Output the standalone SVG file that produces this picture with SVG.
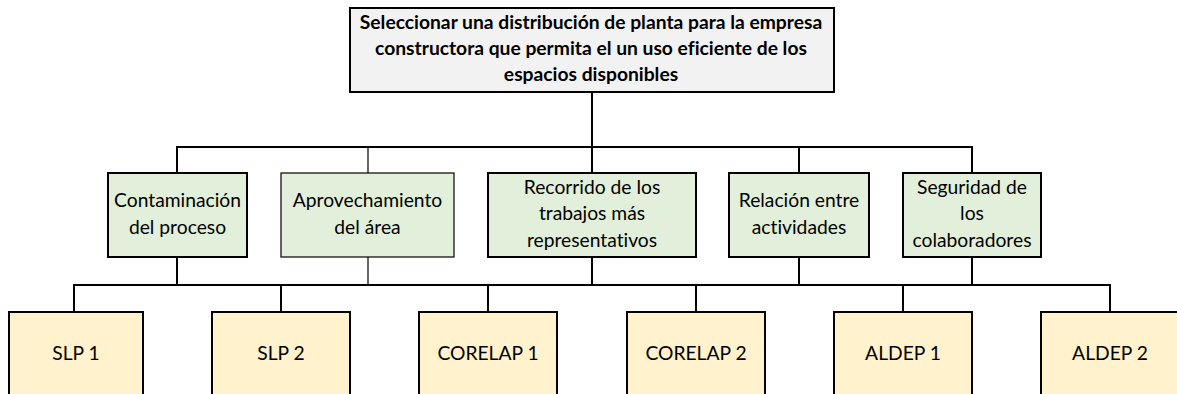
<svg xmlns="http://www.w3.org/2000/svg" width="1177" height="394" viewBox="0 0 1177 394">
<style>
  .bg{fill:#ffffff}
  .top{fill:#f2f2f2;stroke:#000;stroke-width:2}
  .crit{fill:#e2efda;stroke:#000;stroke-width:2}
  .alt{fill:#fff2cc;stroke:#000;stroke-width:2}
  .thin{stroke-width:1.2}
  .conn line{stroke:#000;stroke-width:2;stroke-linecap:square}
  .conn line.thin{stroke-width:1.2}
  text{font-family:Lato,"Liberation Sans","DejaVu Sans",sans-serif;font-size:19.25px;fill:#000;text-anchor:middle;font-variant-ligatures:none;font-feature-settings:"liga" 0}
  .b{font-weight:bold}
</style>
<rect class="bg" x="0" y="0" width="1177" height="394"/>
<g id="connectors" class="conn">
  <line x1="592" y1="92" x2="592" y2="147"/>
  <line x1="177" y1="147" x2="972" y2="147"/>
  <line x1="177" y1="147" x2="177" y2="173"/>
  <line class="thin" x1="368" y1="147" x2="368" y2="173"/>
  <line x1="592" y1="147" x2="592" y2="173"/>
  <line x1="799" y1="147" x2="799" y2="173"/>
  <line x1="972" y1="147" x2="972" y2="173"/>
  <line x1="177" y1="257" x2="177" y2="285"/>
  <line class="thin" x1="368" y1="257" x2="368" y2="285"/>
  <line x1="592" y1="257" x2="592" y2="285"/>
  <line x1="799" y1="257" x2="799" y2="285"/>
  <line x1="972" y1="257" x2="972" y2="285"/>
  <line x1="74" y1="285" x2="1110" y2="285"/>
  <line x1="74" y1="285" x2="74" y2="312"/>
  <line x1="281" y1="285" x2="281" y2="312"/>
  <line x1="488" y1="285" x2="488" y2="312"/>
  <line x1="696" y1="285" x2="696" y2="312"/>
  <line x1="903" y1="285" x2="903" y2="312"/>
  <line x1="1110" y1="285" x2="1110" y2="312"/>
</g>
<g id="objetivo">
  <rect class="top" x="350" y="8" width="484" height="84"/>
  <text class="b" x="591" y="29">Seleccionar una distribución de planta para la empresa</text>
  <text class="b" x="591" y="55">constructora que permita el un uso eficiente de los</text>
  <text class="b" x="591" y="81">espacios disponibles</text>
</g>
<g id="contaminacion">
  <rect class="crit" x="108" y="173" width="139" height="84"/>
  <text x="177.5" y="207">Contaminación</text>
  <text x="177.5" y="233.5">del proceso</text>
</g>
<g id="aprovechamiento">
  <rect class="crit thin" x="281" y="173" width="173" height="84"/>
  <text x="367.5" y="207">Aprovechamiento</text>
  <text x="367.5" y="233.5">del área</text>
</g>
<g id="recorrido">
  <rect class="crit" x="488" y="173" width="208" height="84"/>
  <text x="592" y="193.5">Recorrido de los</text>
  <text x="592" y="220">trabajos más</text>
  <text x="592" y="246.5">representativos</text>
</g>
<g id="relacion">
  <rect class="crit" x="729" y="173" width="140" height="84"/>
  <text x="799" y="207">Relación entre</text>
  <text x="799" y="233.5">actividades</text>
</g>
<g id="seguridad">
  <rect class="crit" x="903" y="173" width="138" height="84"/>
  <text x="972" y="193.5">Seguridad de</text>
  <text x="972" y="220">los</text>
  <text x="972" y="246.5">colaboradores</text>
</g>
<g id="slp1">
  <rect class="alt" x="9" y="312" width="134" height="100"/>
  <text x="76" y="360">SLP 1</text>
</g>
<g id="slp2">
  <rect class="alt" x="212" y="312" width="138" height="100"/>
  <text x="281" y="360">SLP 2</text>
</g>
<g id="corelap1">
  <rect class="alt" x="419" y="312" width="138" height="100"/>
  <text x="488" y="360">CORELAP 1</text>
</g>
<g id="corelap2">
  <rect class="alt" x="627" y="312" width="138" height="100"/>
  <text x="696" y="360">CORELAP 2</text>
</g>
<g id="aldep1">
  <rect class="alt" x="834" y="312" width="138" height="100"/>
  <text x="903" y="360">ALDEP 1</text>
</g>
<g id="aldep2">
  <rect class="alt" x="1041" y="312" width="138" height="100"/>
  <text x="1110" y="360">ALDEP 2</text>
</g>
</svg>
